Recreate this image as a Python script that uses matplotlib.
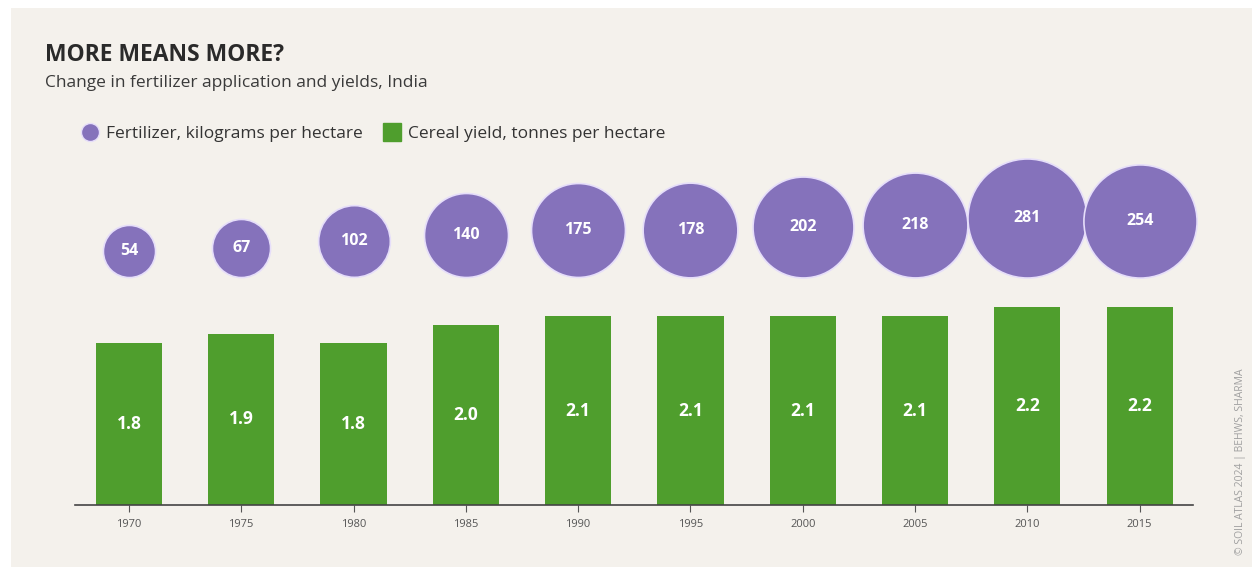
"""
plot.py

Fertilizer use vs. cereal yield in India, bubbles over bars.
"""

import numpy as np
import matplotlib.pyplot as plt
from matplotlib.patches import Rectangle
from matplotlib.lines import Line2D
from matplotlib.transforms import ScaledTranslation


years = ["1970", "1975", "1980", "1985", "1990",
         "1995", "2000", "2005", "2010", "2015"]

fertilizer = [54, 67, 102, 140, 175, 178, 202, 218, 281, 254]

cereal_yield = [1.8, 1.9, 1.8, 2.0, 2.1, 2.1, 2.1, 2.1, 2.2, 2.2]

title = "MORE MEANS MORE?"
subtitle = "Change in fertilizer application and yields, India"
legend_labels = ["Fertilizer, kilograms per hectare",
                 "Cereal yield, tonnes per hectare"]
credit = "© SOIL ATLAS 2024 | BEHWS, SHARMA"

PURPLE = "#8572bb"
GREEN = "#4f9e2d"
PANEL = "#f4f1ec"

plt.rcParams["font.family"] = ["Open Sans", "DejaVu Sans"]

fig = plt.figure(
    figsize=(12.52, 5.67),
    dpi=100,
    facecolor="white",
)

fig.patches.append(
    Rectangle(
        (11 / 1252, 0),
        1 - 11 / 1252,
        1 - 8 / 567,
        transform=fig.transFigure,
        facecolor=PANEL,
        edgecolor="none",
        zorder=-10,
    )
)

# axes: baseline at y=505px, top at y=140px, 90 px per tonne
ax = fig.add_axes([75 / 1252, 62 / 567, 1118 / 1252, 365 / 567])
ax.set_facecolor("none")

x = np.arange(len(years))

ax.bar(
    x,
    cereal_yield,
    width=0.59,
    color=GREEN,
    zorder=2,
)

for xi, val in zip(x, cereal_yield):

    ax.text(
        xi,
        val / 2,
        f"{val:.1f}",
        ha="center",
        va="center",
        color="white",
        fontsize=12.5,
        fontweight="bold",
        zorder=3,
    )

# bubbles: area proportional to value, bottoms aligned
bubble_base = 2.53

for xi, val in zip(x, fertilizer):

    r_pt = 0.72 * 3.55 * np.sqrt(val)

    shift = ScaledTranslation(0, r_pt / 72, fig.dpi_scale_trans)

    ax.scatter(
        [xi],
        [bubble_base],
        s=(2 * r_pt) ** 2,
        color=PURPLE,
        edgecolor="#e6defa",
        linewidth=1.2,
        transform=ax.transData + shift,
        clip_on=False,
        zorder=2,
    )

    ax.text(
        xi,
        bubble_base,
        str(val),
        ha="center",
        va="center",
        color="white",
        fontsize=11.5,
        fontweight="bold",
        transform=ax.transData + shift,
        zorder=3,
    )

ax.set_xlim(-0.48, 9.475)
ax.set_ylim(0, 365 / 90)

ax.set_xticks(x)
ax.set_xticklabels(years)
ax.set_yticks([])

ax.tick_params(
    axis="x",
    length=5,
    width=0.8,
    color="#555555",
    labelsize=8,
    labelcolor="#555555",
    pad=5,
)

for side in ["top", "right", "left"]:

    ax.spines[side].set_visible(False)

ax.spines["bottom"].set_color("#444444")
ax.spines["bottom"].set_linewidth(1.2)

fig.text(
    45 / 1252,
    1 - 61 / 567,
    title,
    fontsize=16.5,
    fontweight="bold",
    color="#2a2a2a",
    va="baseline",
)

fig.text(
    45 / 1252,
    1 - 87 / 567,
    subtitle,
    fontsize=12.5,
    color="#3a3a3a",
    va="baseline",
)

handles = [
    Line2D([], [], marker="o", linestyle="none", markersize=13,
           markerfacecolor=PURPLE, markeredgecolor="#e6defa"),
    Line2D([], [], marker="s", linestyle="none", markersize=13,
           markerfacecolor=GREEN, markeredgecolor=GREEN),
]

fig.legend(
    handles,
    legend_labels,
    loc="center left",
    bbox_to_anchor=(66 / 1252, 1 - 134 / 567),
    ncol=2,
    frameon=False,
    fontsize=12.5,
    handlelength=1.0,
    handletextpad=0.4,
    columnspacing=1.2,
    labelcolor="#333333",
)

fig.text(
    1240 / 1252,
    1 - 462 / 567,
    credit,
    rotation=90,
    fontsize=7.5,
    color="#a0a0a0",
    ha="center",
    va="center",
)

fig.savefig("out.png", dpi=100, facecolor=fig.get_facecolor())

plt.close(fig)
